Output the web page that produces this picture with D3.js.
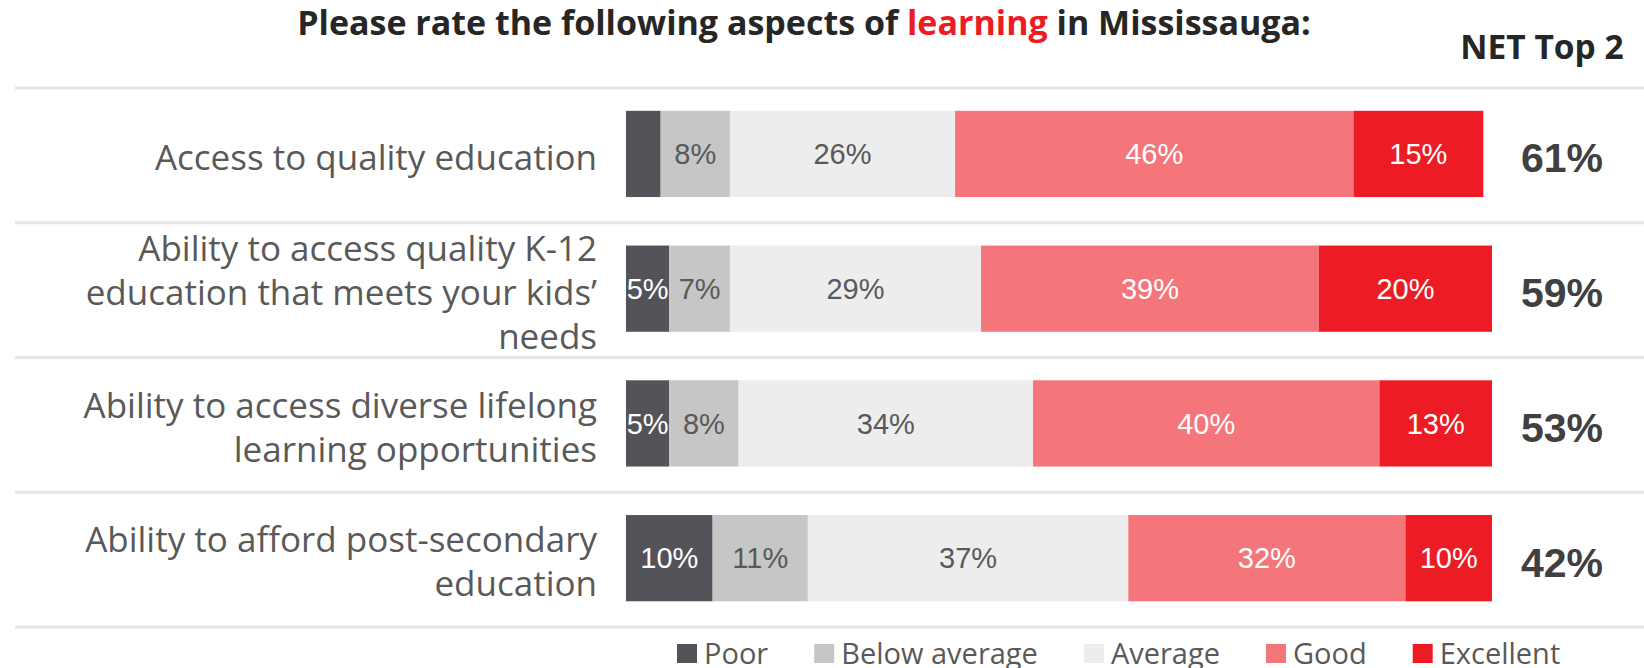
<!DOCTYPE html>
<html>
<head>
<meta charset="utf-8">
<script src="https://cdn.jsdelivr.net/npm/d3@7"></script>
<style>
  body { margin: 0; background: #fff; }
</style>
</head>
<body>
<div id="chart"></div>
<script>
// data
var categories = [
  ["Access to quality education"],
  ["Ability to access quality K-12", "education that meets your kids\u2019", "needs"],
  ["Ability to access diverse lifelong", "learning opportunities"],
  ["Ability to afford post-secondary", "education"]
];
var seriesNames = ["Poor", "Below average", "Average", "Good", "Excellent"];
var poor         = [4, 5, 5, 10];
var belowAverage = [8, 7, 8, 11];
var average      = [26, 29, 34, 37];
var good         = [46, 39, 40, 32];
var excellent    = [15, 20, 13, 10];
var netTop2      = [61, 59, 53, 42];

var colors     = ["#545359", "#c6c6c6", "#ededed", "#f4767b", "#ed1c24"];
var textColors = ["#ffffff", "#595959", "#595959", "#ffffff", "#ffffff"];

var width = 1644, height = 668;

var svg = d3.select("#chart").append("svg")
    .attr("width", width)
    .attr("height", height);

var rows = categories.map(function(c, i) {
  return {
    key: i,
    lines: c,
    values: [poor[i], belowAverage[i], average[i], good[i], excellent[i]],
    net: netTop2[i]
  };
});

// scales
var x = d3.scaleLinear().domain([0, 100]).range([626, 1492]);
var y = d3.scaleBand()
    .domain(rows.map(function(d) { return d.key; }))
    .range([88, 627])
    .paddingInner(0.36)
    .paddingOuter(0.18)
    .align(0.47);
var sep = d3.scaleLinear().domain([0, rows.length]).range([88, 627]);

// separator lines
svg.selectAll(".sep")
    .data(d3.range(rows.length + 1))
  .enter().append("line")
    .attr("class", "sep")
    .attr("x1", 15).attr("x2", width)
    .attr("y1", function(d) { return sep(d); })
    .attr("y2", function(d) { return sep(d); })
    .attr("stroke", "#e6e6e6")
    .attr("stroke-width", 3);

// title
var title = svg.append("text")
    .attr("x", 804)
    .attr("y", 35)
    .attr("text-anchor", "middle")
    .style("font-family", "'Open Sans', sans-serif")
    .style("font-weight", "700")
    .style("font-size", "34px")
    .attr("fill", "#262626");
title.append("tspan").text("Please rate the following aspects of ");
title.append("tspan").attr("fill", "#ed1c24").text("learning");
title.append("tspan").text(" in Mississauga:");

svg.append("text")
    .attr("x", 1542)
    .attr("y", 59)
    .attr("text-anchor", "middle")
    .style("font-family", "'Open Sans', sans-serif")
    .style("font-weight", "700")
    .style("font-size", "33.5px")
    .attr("fill", "#262626")
    .text("NET Top 2");

// rows
var row = svg.selectAll(".row")
    .data(rows)
  .enter().append("g")
    .attr("class", "row");

row.each(function(d) {
  var g = d3.select(this);
  var stacked = [];
  var acc = 0;
  d.values.forEach(function(v, j) {
    stacked.push({ j: j, v: v, x0: acc, x1: acc + v });
    acc += v;
  });

  g.selectAll(".bar")
      .data(stacked)
    .enter().append("rect")
      .attr("class", "bar")
      .attr("x", function(s) { return x(s.x0); })
      .attr("width", function(s) { return x(s.x1) - x(s.x0); })
      .attr("y", y(d.key))
      .attr("height", y.bandwidth())
      .attr("fill", function(s) { return colors[s.j]; });

  g.selectAll(".val")
      .data(stacked.filter(function(s) { return s.v >= 5; }))
    .enter().append("text")
      .attr("class", "val")
      .attr("x", function(s) { return (x(s.x0) + x(s.x1)) / 2; })
      .attr("y", y(d.key) + y.bandwidth() / 2)
      .attr("dy", "0.35em")
      .attr("text-anchor", "middle")
      .style("font-family", "'Liberation Sans', Arial, sans-serif")
      .style("font-size", "29px")
      .attr("fill", function(s) { return textColors[s.j]; })
      .text(function(s) { return s.v + "%"; });

  // category label, right aligned
  var cy = y(d.key) + y.bandwidth() / 2 + 4;
  var lh = 44;
  g.append("text")
      .attr("text-anchor", "end")
      .style("font-family", "'Open Sans', sans-serif")
      .style("font-size", "35px")
      .attr("fill", "#595959")
    .selectAll("tspan")
      .data(d.lines)
    .enter().append("tspan")
      .attr("x", 597)
      .attr("y", function(l, k) { return cy + (k - (d.lines.length - 1) / 2) * lh; })
      .attr("dy", "0.35em")
      .text(function(l) { return l; });

  g.append("text")
      .attr("x", 1562)
      .attr("y", y(d.key) + y.bandwidth() / 2 + 4)
      .attr("dy", "0.35em")
      .attr("text-anchor", "middle")
      .style("font-family", "'Liberation Sans', Arial, sans-serif")
      .style("font-weight", "700")
      .style("font-size", "41px")
      .attr("fill", "#404040")
      .text(d.net + "%");
});

// legend
var legend = svg.append("g").attr("class", "legend");
var lx = 677;
seriesNames.forEach(function(name, j) {
  legend.append("rect")
      .attr("x", lx).attr("y", 644)
      .attr("width", 20).attr("height", 19)
      .attr("fill", colors[j]);
  var t = legend.append("text")
      .attr("x", lx + 27)
      .attr("y", 664)
      .style("font-family", "'Open Sans', sans-serif")
      .style("font-size", "29px")
      .attr("fill", "#595959")
      .text(name);
  lx += 27 + t.node().getComputedTextLength() + 46;
});
</script>
</body>
</html>
